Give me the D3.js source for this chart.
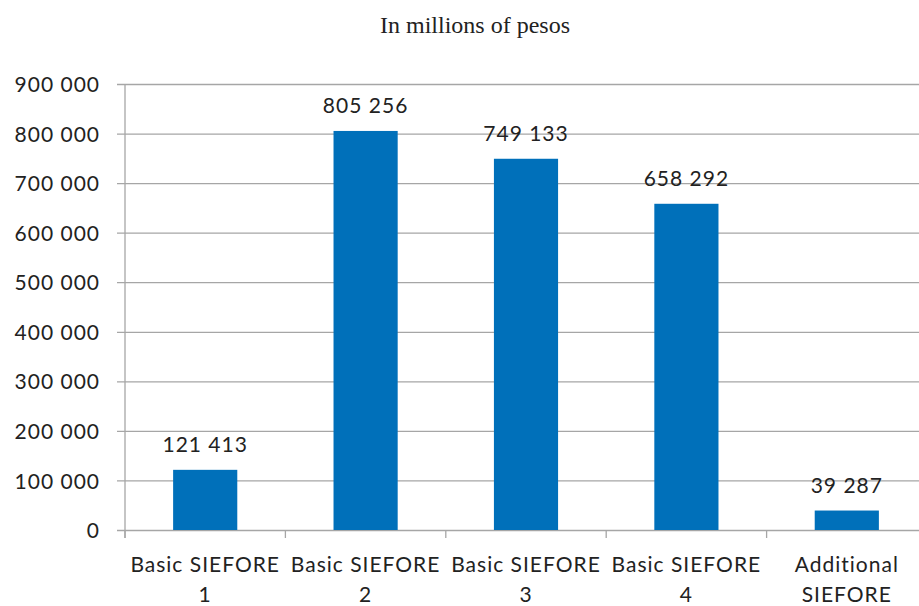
<!DOCTYPE html>
<html>
<head>
<meta charset="utf-8">
<script src="https://cdn.jsdelivr.net/npm/d3@7"></script>
<style>
  html, body { margin: 0; padding: 0; background: #fff; }
  svg { display: block; }
</style>
</head>
<body>
<svg id="chart" width="919" height="606"></svg>
<script>
// Assets of the SIEFOREs, in millions of pesos
const categories = [["Basic SIEFORE", "1"], ["Basic SIEFORE", "2"], ["Basic SIEFORE", "3"], ["Basic SIEFORE", "4"], ["Additional", "SIEFORE"]];
const values = [121413, 805256, 749133, 658292, 39287];
const yTicks = [0, 100000, 200000, 300000, 400000, 500000, 600000, 700000, 800000, 900000];
const title = "In millions of pesos";

const svg = d3.select("#chart");
const plotLeft = 125, plotRight = 927, plotTop = 84, plotBottom = 530;
const font = "Lato, 'Open Sans', sans-serif";
const fontSize = 21, spacing = 1;
const fmt = v => d3.format(",")(v).replace(/,/g, " ");

const x = d3.scaleBand().domain(d3.range(values.length)).range([plotLeft, plotRight]).paddingInner(0.6).paddingOuter(0.3);
const y = d3.scaleLinear().domain([0, 900000]).range([plotBottom, plotTop]);

// Title
svg.append("text")
  .attr("x", 475).attr("y", 33)
  .attr("text-anchor", "middle")
  .attr("font-family", "'Liberation Serif', 'Times New Roman', serif")
  .attr("font-size", 24).attr("fill", "#222")
  .text(title);

// Gridlines and y tick labels
const yAxis = d3.axisLeft(y).tickValues(yTicks).tickSize(-(plotRight - plotLeft + 8)).tickFormat(fmt);
const gy = svg.append("g").attr("transform", `translate(${plotLeft - 8},0)`).call(yAxis);
gy.select(".domain").remove();
gy.selectAll(".tick line").attr("stroke", "#a6a6a6").attr("stroke-width", 1.3);
gy.selectAll(".tick text").attr("font-family", font).attr("font-size", fontSize).attr("fill", "#222")
  .attr("letter-spacing", spacing).attr("x", -17).attr("dy", "0.36em");

// Vertical axis line
svg.append("line").attr("x1", plotLeft).attr("x2", plotLeft).attr("y1", plotTop).attr("y2", plotBottom + 8)
  .attr("stroke", "#a6a6a6").attr("stroke-width", 1.3);

// Category boundary ticks on the x axis
const step = x.step();
svg.append("g").selectAll("line").data(d3.range(values.length + 1)).join("line")
  .attr("x1", i => plotLeft + i * step).attr("x2", i => plotLeft + i * step)
  .attr("y1", plotBottom).attr("y2", plotBottom + 8)
  .attr("stroke", "#a6a6a6").attr("stroke-width", 1.3);

// Bars
svg.append("g").selectAll("rect").data(values).join("rect")
  .attr("x", (d, i) => x(i)).attr("width", x.bandwidth())
  .attr("y", d => y(d)).attr("height", d => plotBottom - y(d))
  .attr("fill", "#0070ba");

// Value labels
svg.append("g").selectAll("text").data(values).join("text")
  .attr("x", (d, i) => x(i) + x.bandwidth() / 2)
  .attr("y", d => y(d) - 18)
  .attr("text-anchor", "middle")
  .attr("font-family", font).attr("font-size", fontSize).attr("letter-spacing", spacing).attr("fill", "#222")
  .text(fmt);

// Category labels (two lines)
const cat = svg.append("g").selectAll("text").data(categories).join("text")
  .attr("text-anchor", "middle")
  .attr("font-family", font).attr("font-size", fontSize).attr("letter-spacing", spacing).attr("fill", "#222");
cat.each(function(d, i) {
  const t = d3.select(this);
  d.forEach((line, j) => {
    t.append("tspan").attr("x", x(i) + x.bandwidth() / 2).attr("y", 572 + j * 30).text(line);
  });
});
</script>
</body>
</html>
